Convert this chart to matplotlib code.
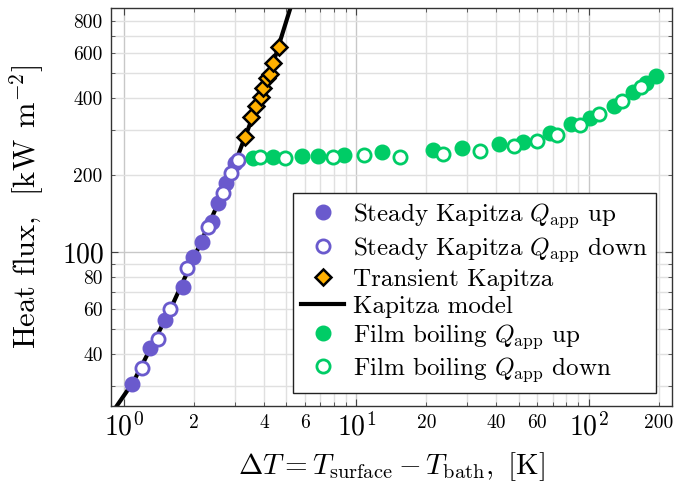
import numpy as np
import matplotlib
matplotlib.use("Agg")
import matplotlib.pyplot as plt

plt.rcParams["font.family"] = "serif"
plt.rcParams["font.serif"] = ["cmr10"]
plt.rcParams["mathtext.fontset"] = "cm"
plt.rcParams["axes.formatter.use_mathtext"] = True

# Steady Kapitza, Q_app up / down  (dT [K], q [kW/m2])
kap_up_dT = [1.086, 1.294, 1.501, 1.788, 1.975, 2.159, 2.384, 2.544, 2.746, 3.002]
kap_up_q = [30.4, 42.1, 54.3, 73.2, 95.3, 109.7, 131.3, 154.9, 185.5, 222.1]
kap_dn_dT = [1.191, 1.396, 1.577, 1.872, 2.305, 2.658, 2.877, 3.101]
kap_dn_q = [35.1, 45.6, 59.7, 86.4, 124.9, 169.6, 203.0, 228.8]

# Transient Kapitza
tr_dT = [3.314, 3.517, 3.696, 3.873, 3.973, 4.133, 4.246, 4.362, 4.656]
tr_q = [280.5, 337.8, 371.7, 404.2, 436.0, 477.0, 496.0, 549.0, 634.0]

# Kapitza model curve
model_dT = [0.93, 1.1, 1.3, 1.6, 2.0, 2.5, 3.0, 3.5, 4.0, 4.5, 5.2]
model_q = [25.0, 31.2, 42.0, 61.0, 95.0, 150.0, 222.0, 320.0, 440.0, 590.0, 900.0]

# Film boiling, Q_app up / down
fb_up_dT = [3.598, 4.362, 5.811, 6.849, 8.835, 12.83, 21.39, 28.34, 41.14, 51.86,
            67.96, 83.42, 101.0, 128.1, 154.2, 177.1, 195.5]
fb_up_q = [232.3, 234.4, 237.1, 237.1, 239.3, 246.5, 250.3, 254.2, 264.2, 269.7,
           292.4, 316.2, 333.0, 372.8, 422.9, 456.0, 487.0]
fb_dn_dT = [3.846, 4.926, 7.947, 10.77, 15.39, 23.62, 33.98, 47.59, 59.92, 72.62,
            91.5, 110.7, 139.6, 167.4]
fb_dn_q = [234.4, 232.3, 234.4, 239.3, 235.7, 240.8, 248.7, 259.5, 271.4, 286.4,
           313.4, 345.1, 389.9, 442.3]

purple = "#6a5acd"
green = "#00cc66"
orange = "#ffb000"

fig = plt.figure(figsize=(6.82, 4.86), dpi=100)
ax = fig.add_axes([0.1628, 0.1646, 0.8225, 0.8189])
ax.set_xscale("log")
ax.set_yscale("log")

ms = 10.5
ax.plot(model_dT, model_q, color="black", lw=3, zorder=2, label="Kapitza model")
ax.plot(kap_up_dT, kap_up_q, "o", ls="none", color=purple, ms=ms, zorder=3,
        label=r"Steady Kapitza $Q_{\rm app}$ up")
ax.plot(kap_dn_dT, kap_dn_q, "o", ls="none", mfc="white", mec=purple, mew=2,
        ms=ms - 1, zorder=3, label=r"Steady Kapitza $Q_{\rm app}$ down")
ax.plot(tr_dT, tr_q, "D", ls="none", mfc=orange, mec="black", mew=1.8, ms=8,
        zorder=4, label="Transient Kapitza")
ax.plot(fb_up_dT, fb_up_q, "o", ls="none", color=green, ms=ms, zorder=3,
        label=r"Film boiling $Q_{\rm app}$ up")
ax.plot(fb_dn_dT, fb_dn_q, "o", ls="none", mfc="white", mec=green, mew=2,
        ms=ms - 1, zorder=3, label=r"Film boiling $Q_{\rm app}$ down")

# ticks and labels
ax.set_xticks([1, 10, 100], [r"$10^{0}$", r"$10^{1}$", r"$10^{2}$"])
xminor = [m * d for d in (1, 10, 100) for m in range(2, 10)]
xlab = {2: "2", 4: "4", 6: "6", 20: "20", 40: "40", 60: "60", 200: "200"}
ax.set_xticks(xminor, [xlab.get(v, "") for v in xminor], minor=True)
ax.set_yticks([100], ["100"])
yminor = [m * d for d in (10, 100) for m in range(2, 10)]
ylab = {40: "40", 60: "60", 80: "80", 200: "200", 400: "400", 600: "600", 800: "800"}
ax.set_yticks(yminor, [ylab.get(v, "") for v in yminor], minor=True)
ax.set_xlim(0.879, 228)
ax.set_ylim(25, 899)

ax.tick_params(which="both", direction="in", top=True, right=True, color="#444444")
ax.tick_params(which="major", length=5, labelsize=20, pad=5)
ax.tick_params(which="minor", length=3, labelsize=14, pad=6)

ax.grid(True, which="major", color="#c8c8c8", lw=1.0)
ax.grid(True, which="minor", color="#e0e0e0", lw=1.0)
ax.set_axisbelow(True)
for s in ax.spines.values():
    s.set_color("#333333")
    s.set_linewidth(1.0)

ax.set_xlabel(r"$\Delta T = T_{\rm surface} - T_{\rm bath},\ [{\rm K}]$", fontsize=21, labelpad=6)
ax.set_ylabel(r"Heat flux,  $[\mathrm{kW\;\,m}^{-2}]$", fontsize=22, labelpad=12)

handles, labels = ax.get_legend_handles_labels()
order = [1, 2, 3, 0, 4, 5]
leg = ax.legend([handles[i] for i in order], [labels[i] for i in order],
                loc="lower right", bbox_to_anchor=(0.9715, 0.0327), borderaxespad=0,
                fontsize=18, frameon=True, fancybox=False, framealpha=1,
                edgecolor="#222222", handlelength=1.7, labelspacing=0.18,
                borderpad=0.35, handletextpad=0.35)
leg.get_frame().set_linewidth(1.0)

fig.savefig("out.png", dpi=100)
